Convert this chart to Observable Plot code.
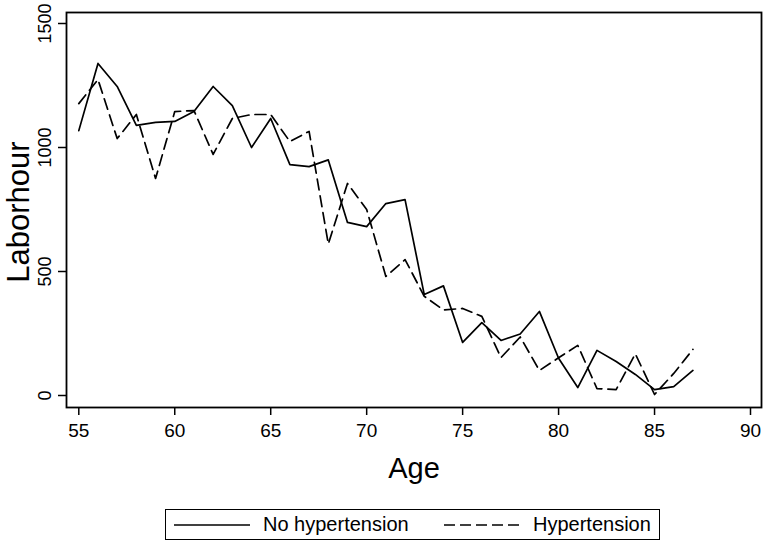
<!DOCTYPE html>
<html>
<head>
<meta charset="utf-8">
<script src="https://cdn.jsdelivr.net/npm/d3@7"></script>
<script src="https://cdn.jsdelivr.net/npm/@observablehq/plot@0.6"></script>
<style>
  html, body { margin: 0; padding: 0; background: white; }
  #wrap { position: relative; width: 765px; height: 549px; font-family: "Liberation Sans", Arial, sans-serif; }
  #legend { position: absolute; left: 165px; top: 509px; width: 495px; height: 31px; border: 1.5px solid black; box-sizing: border-box; }
  #legend svg { position: absolute; top: 0; left: 0; }
  #legend span { position: absolute; top: 3px; font-size: 20px; color: black; white-space: nowrap; }
</style>
</head>
<body>
<div id="wrap">
  <div id="chart"></div>
  <div id="legend"></div>
</div>
<script>
const ages = [55,56,57,58,59,60,61,62,63,64,65,66,67,68,69,70,71,72,73,74,75,76,77,78,79,80,81,82,83,84,85,86,87];
const noHypertension = [1068,1339,1246,1089,1101,1105,1145,1246,1169,1000,1117,931,923,950,698,681,774,790,407,442,214,294,222,248,339,150,32,182,137,85,24,36,101];
const hypertension = [1177,1274,1036,1133,875,1145,1149,972,1117,1133,1133,1024,1065,611,855,750,480,548,400,345,351,319,153,236,101,152,202,28,24,168,4,89,186];
const xTicks = [55,60,65,70,75,80,85,90];
const yTicks = [0,500,1000,1500];
const seriesNames = ["No hypertension", "Hypertension"];

const rows = ages.map((a, i) => ({age: a, noHyp: noHypertension[i], hyp: hypertension[i]}));

const plot = Plot.plot({
  width: 765,
  height: 500,
  marginLeft: 66,
  marginRight: 4,
  marginTop: 12,
  marginBottom: 93,
  style: {fontFamily: "'Liberation Sans', Arial, sans-serif", color: "black", background: "white"},
  x: {domain: [55, 90], range: [78.3, 750]},
  y: {domain: [0, 1500], range: [395, 23]},
  marks: [
    Plot.axisX({ticks: xTicks, tickSize: 8, tickPadding: 8, fontSize: 19, strokeWidth: 1.5, label: null}),
    Plot.axisY({ticks: yTicks, tickSize: 8, tickFormat: () => "", strokeWidth: 1.5, label: null}),
    Plot.text(yTicks, {y: d => d, text: d => String(d), frameAnchor: "left", dx: -21, rotate: -90, fontSize: 18, textAnchor: "middle", lineAnchor: "middle", fill: "black"}),
    Plot.text(["Laborhour"], {frameAnchor: "left", dx: -47, dy: 2, rotate: -90, fontSize: 31, textAnchor: "middle", lineAnchor: "middle", fill: "black"}),
    Plot.text(["Age"], {frameAnchor: "bottom", dy: 70, fontSize: 29, textAnchor: "middle", lineAnchor: "bottom", fill: "black"}),
    Plot.frame({stroke: "black", strokeWidth: 1.8}),
    Plot.line(rows, {x: "age", y: "hyp", stroke: "black", strokeWidth: 1.7, strokeDasharray: "11,6"}),
    Plot.line(rows, {x: "age", y: "noHyp", stroke: "black", strokeWidth: 1.7})
  ]
});
document.getElementById("chart").appendChild(plot);

const lg = document.getElementById("legend");
lg.innerHTML = `
<svg width="495" height="31">
  <line x1="8" x2="84" y1="15" y2="15" stroke="black" stroke-width="1.6"/>
  <line x1="278" x2="353" y1="15" y2="15" stroke="black" stroke-width="1.6" stroke-dasharray="11,5"/>
</svg>
<span style="left:97px">${seriesNames[0]}</span>
<span style="left:367px">${seriesNames[1]}</span>`;
</script>
</body>
</html>
